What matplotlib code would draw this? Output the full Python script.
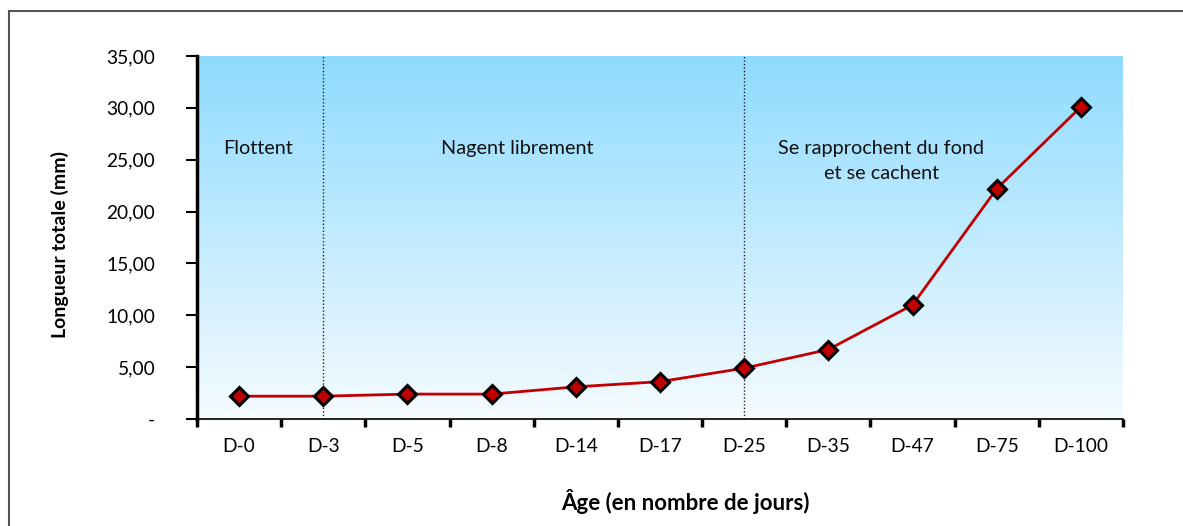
import matplotlib
matplotlib.use("Agg")
import matplotlib.pyplot as plt
import numpy as np
from matplotlib.lines import Line2D

categories = ["D-0", "D-3", "D-5", "D-8", "D-14", "D-17", "D-25", "D-35", "D-47", "D-75", "D-100"]
lengths = [2.2, 2.2, 2.4, 2.4, 3.1, 3.6, 4.9, 6.7, 11.0, 22.2, 30.1]
y_ticks = [0, 5, 10, 15, 20, 25, 30, 35]
y_tick_labels = ["-", "5,00", "10,00", "15,00", "20,00", "25,00", "30,00", "35,00"]
phase_bounds = ["D-3", "D-25"]
phase_labels = ["Flottent", "Nagent librement", "Se rapprochent du fond\net se cachent"]
phase_label_x = [0.22, 3.31, 7.63]

plt.rcParams["font.family"] = ["Lato", "DejaVu Sans"]

W, H = 1183, 526
fig = plt.figure(figsize=(W / 100, H / 100), dpi=100)
ax = fig.add_axes([197 / W, 1 - 419 / H, 926 / W, 363 / H])

x = np.arange(len(categories))
ax.set_xlim(-0.5, len(categories) - 0.5)
ax.set_ylim(0, 35)

# vertical gradient background
top = np.array([142, 219, 255]) / 255
bottom = np.array([246, 251, 255]) / 255
t = np.linspace(0, 1, 256)[:, None]
grad = (top * t + bottom * (1 - t))[:, None, :]
ax.imshow(grad, extent=(-0.5, len(categories) - 0.5, 0, 35), origin="lower",
          aspect="auto", zorder=0)

for name in phase_bounds:
    ax.axvline(categories.index(name), color="#222222", linestyle=(0, (1, 1.5)),
               linewidth=1.0, zorder=1)

ax.plot(x, lengths, color="#C00000", linewidth=2, zorder=2)
ax.plot(x, lengths, linestyle="none", marker="D", markersize=9,
        markerfacecolor="#C00000", markeredgecolor="black", markeredgewidth=2.2, zorder=3)

for lx, txt in zip(phase_label_x, phase_labels):
    ax.text(lx, 26.9, txt, ha="center", va="top", fontsize=14.3, color="#111111",
            linespacing=1.55)

ax.set_yticks(y_ticks)
ax.set_yticklabels(y_tick_labels, fontsize=13.8)
ax.set_xticks(np.arange(-0.5, len(categories)), labels=[])
ax.set_xticks(x, labels=categories, minor=True, fontsize=13.8)
ax.tick_params(axis="x", which="major", length=6, width=2.5, direction="out")
ax.tick_params(axis="x", which="minor", length=0, pad=14)
ax.tick_params(axis="y", length=8, width=1.5, direction="out", pad=22)

for s in ["top", "right"]:
    ax.spines[s].set_visible(False)
ax.spines["left"].set_linewidth(2.5)
ax.spines["bottom"].set_linewidth(1.2)

ax.set_ylabel("Longueur totale (mm)", fontsize=14, fontweight="bold", labelpad=27)
ax.yaxis.label.set_y(0.48)
ax.set_xlabel("Âge (en nombre de jours)", fontsize=16, fontweight="bold", labelpad=24)
ax.xaxis.label.set_x(0.527)

# outer frame
fx = 8.5 / W
fy = 1 - 11 / H
fig.add_artist(Line2D([fx, fx], [-0.1, fy], transform=fig.transFigure, color="#555555", lw=1.5))
fig.add_artist(Line2D([fx, 1.1], [fy, fy], transform=fig.transFigure, color="#555555", lw=1.5))

fig.savefig("out.png", dpi=100)
